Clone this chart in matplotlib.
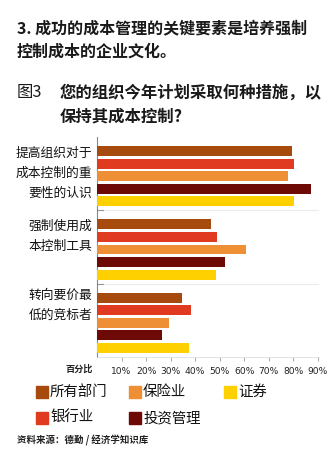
import matplotlib
matplotlib.use("Agg")
import matplotlib.pyplot as plt
from matplotlib.patches import Rectangle

plt.rcParams['font.family'] = ['Noto Sans CJK SC', 'DejaVu Sans']

categories = [["提高组织对于", "成本控制的重", "要性的认识"],
              ["强制使用成", "本控制工具"],
              ["转向要价最", "低的竞标者"]]
series_names = ["所有部门", "银行业", "保险业", "投资管理", "证券"]
series_colors = ["#A64A0E", "#E03A20", "#EE8F35", "#6E0A06", "#FFD000"]
values = {
    "所有部门": [79.5, 46.4, 34.6],
    "银行业":   [80.4, 49.1, 38.4],
    "保险业":   [77.7, 60.8, 29.5],
    "投资管理": [87.3, 52.0, 26.4],
    "证券":     [80.5, 48.4, 37.7],
}
xticks = [10, 20, 30, 40, 50, 60, 70, 80, 90]

W, H = 332, 450
fig = plt.figure(figsize=(W / 100, H / 100), dpi=100)

def fx(px):
    return px / W

def fy(py):
    return 1 - py / H

# titles
fig.text(fx(17), fy(28), "3. 成功的成本管理的关键要素是培养强制", fontsize=11.5,
         fontweight="bold", color="#1a1a1a", va="center", ha="left")
fig.text(fx(17), fy(52), "控制成本的企业文化。", fontsize=11.5,
         fontweight="bold", color="#1a1a1a", va="center", ha="left")
fig.text(fx(17), fy(93), "图3", fontsize=11.8, color="#1a1a1a", va="center", ha="left")
fig.text(fx(60), fy(93), "您的组织今年计划采取何种措施，以", fontsize=11.8,
         fontweight="bold", color="#1a1a1a", va="center", ha="left")
fig.text(fx(60), fy(116), "保持其成本控制?", fontsize=11.8,
         fontweight="bold", color="#1a1a1a", va="center", ha="left")

# plot area
left, right, top, bottom = 97, 319, 137, 357
ax = fig.add_axes([fx(left), fy(bottom), fx(right - left), (bottom - top) / H])
group_px = (bottom - top) / 3
first, step, bar_h = 0.19, 0.172, 0.136

for j, name in enumerate(series_names):
    ys = [i + first + j * step for i in range(len(categories))]
    ax.barh(ys, values[name], height=bar_h, color=series_colors[j], zorder=3)

ax.set_ylim(3, 0)
ax.set_xlim(0, 90.5)

# group separators
for b in [1, 2]:
    ax.axhline(b, color="#ececec", linewidth=0.8, zorder=1)
    ax.plot([0, 2.5], [b, b], color="#999999", linewidth=0.8, zorder=2, clip_on=False)

# category labels
for i, lines in enumerate(categories):
    off = 16 if i < 2 else 12
    for k, line in enumerate(lines):
        ax.text(-0.022, i + (off + 20 * k) / group_px, line, transform=ax.get_yaxis_transform(),
                ha="right", va="center", fontsize=9.2, color="#111111")

for s in ["top", "right"]:
    ax.spines[s].set_visible(False)
ax.spines["left"].set_color("#888888")
ax.spines["left"].set_linewidth(0.8)
ax.spines["bottom"].set_color("#dddddd")
ax.spines["bottom"].set_linewidth(0.6)
ax.set_yticks([])
ax.set_xticks(xticks)
ax.set_xticklabels([f"{t}%" for t in xticks], fontsize=6.6, color="#222222",
                   family=["DejaVu Sans"])
ax.tick_params(axis="x", direction="out", length=3, width=0.6, color="#999999", pad=4)

fig.text(fx(93), fy(369), "百分比", fontsize=6.6, fontweight="bold", color="#222222",
         ha="right", va="center")

# legend
leg_pos = [(36, 392), (36, 418), (129, 392), (129, 418), (224, 392)]
for (px, py), name, col in zip(leg_pos, series_names, series_colors):
    fig.add_artist(Rectangle((fx(px), fy(py + 6)), 12 / W, 12 / H, color=col,
                             transform=fig.transFigure))
    fig.text(fx(px + 14), fy(py), name, fontsize=10.4, color="#111111",
             ha="left", va="center")

fig.text(fx(17), fy(440), "资料来源：德勤 / 经济学知识库", fontsize=6.8,
         fontweight="bold", color="#222222", ha="left", va="center")

fig.savefig("out.png", dpi=100)
